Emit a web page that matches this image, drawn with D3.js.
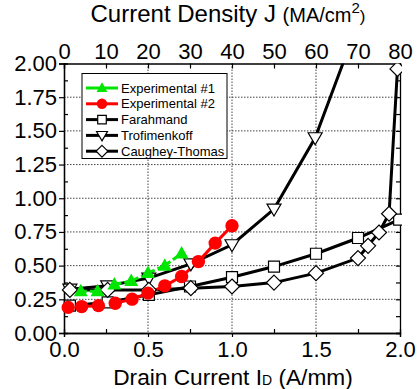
<!DOCTYPE html>
<html><head><meta charset="utf-8">
<script src="https://cdn.jsdelivr.net/npm/d3@7"></script>
<style>body{margin:0;background:#fff}svg{display:block}text{font-family:"Liberation Sans",Arial,sans-serif}</style>
</head><body><svg id="c" width="419" height="389"></svg>
<script>
const exp1X = [0.10, 0.20, 0.30, 0.40, 0.50, 0.60, 0.70];
const exp1Y = [0.31, 0.31, 0.36, 0.385, 0.445, 0.50, 0.59];
const exp2X = [0.025, 0.105, 0.205, 0.305, 0.405, 0.50, 0.60, 0.70, 0.80, 0.90, 1.00];
const exp2Y = [0.19, 0.196, 0.203, 0.221, 0.251, 0.296, 0.350, 0.419, 0.530, 0.667, 0.796];
const farX = [0.035, 0.26, 0.505, 0.75, 1.0, 1.25, 1.5, 1.75, 1.995];
const farY = [0.203, 0.228, 0.283, 0.345, 0.414, 0.493, 0.588, 0.705, 0.841];
const troX = [0.035, 0.26, 0.505, 0.755, 1.0, 1.25, 1.495, 1.75];
const troY = [0.325, 0.35, 0.407, 0.513, 0.655, 0.92, 1.449, 2.30];
const cauX = [0.035, 0.26, 0.505, 0.755, 1.0, 1.25, 1.5, 1.75, 1.81, 1.875, 1.935, 1.985];
const cauY = [0.32, 0.32, 0.32, 0.333, 0.345, 0.374, 0.444, 0.556, 0.647, 0.746, 0.885, 1.96];
const xTicks = [0.0, 0.5, 1.0, 1.5, 2.0];
const yTicks = [0.00, 0.25, 0.50, 0.75, 1.00, 1.25, 1.50, 1.75, 2.00];
const topTicks = [0, 10, 20, 30, 40, 50, 60, 70, 80];
const legendNames = ["Experimental #1", "Experimental #2", "Farahmand", "Trofimenkoff", "Caughey-Thomas"];

const svg = d3.select("#c");
const L = 64, R = 400, T = 63.5, B = 333;
const x = d3.scaleLinear().domain([0, 2]).range([L, R]);
const y = d3.scaleLinear().domain([0, 2]).range([B, T]);
const xt = d3.scaleLinear().domain([0, 80]).range([L, R]);

// grid
const g = svg.append("g");
g.selectAll(".gy").data(yTicks.slice(1, -1)).enter().append("line")
  .attr("x1", L).attr("x2", R).attr("y1", d => y(d)).attr("y2", d => y(d))
  .attr("stroke", "#444").attr("stroke-width", 1).attr("stroke-dasharray", "1.5,1.5");
g.selectAll(".gx").data(xTicks.slice(1, -1)).enter().append("line")
  .attr("y1", T).attr("y2", B).attr("x1", d => x(d)).attr("x2", d => x(d))
  .attr("stroke", "#444").attr("stroke-width", 1).attr("stroke-dasharray", "1.5,1.5");

// axes
const fmt2 = d3.format(".2f"), fmt1 = d3.format(".1f");
const ax = svg.append("g").attr("transform", `translate(${L},0)`)
  .call(d3.axisLeft(y).tickValues(yTicks).tickFormat(fmt2).tickSize(5).tickPadding(2));
const ab = svg.append("g").attr("transform", `translate(0,${B})`)
  .call(d3.axisBottom(x).tickValues(xTicks).tickFormat(fmt1).tickSize(4).tickPadding(4));
const at = svg.append("g").attr("transform", `translate(0,${T})`)
  .call(d3.axisTop(xt).tickValues(topTicks).tickSize(-5).tickPadding(5));
const ar = svg.append("g").attr("transform", `translate(${R},0)`)
  .call(d3.axisRight(y).tickValues(d3.range(0, 2.001, 0.125)).tickFormat("").tickSize(-4));
svg.append("g").attr("transform", `translate(${L},0)`)
  .call(d3.axisLeft(y).tickValues(d3.range(0.125, 2, 0.25)).tickFormat("").tickSize(-4));
svg.append("g").attr("transform", `translate(0,${B})`)
  .call(d3.axisBottom(x).tickValues(d3.range(0.25, 2, 0.5)).tickFormat("").tickSize(-4));
[ax, ab, at, ar].forEach(a => {
  a.selectAll("path").attr("stroke", "#000").attr("stroke-width", 1.3);
  a.selectAll("line").attr("stroke", "#000");
  a.selectAll("text").attr("font-size", 22).attr("fill", "#000").attr("font-family", "Liberation Sans, Arial, sans-serif");
});
svg.selectAll(".domain").attr("stroke-width", 1.3);
svg.selectAll(".tick line").attr("stroke-width", 1.2);
ab.selectAll("text").attr("dy", "0.72em");
at.selectAll("text").attr("dy", "0");

// titles
const tb = svg.append("text").attr("x", 233).attr("y", 385).attr("text-anchor", "middle").attr("font-size", 22.7);
tb.append("tspan").text("Drain Current I");
tb.append("tspan").attr("font-size", 14).text("D");
tb.append("tspan").text(" (A/mm)");
const tt = svg.append("text").attr("x", 228).attr("y", 22).attr("text-anchor", "middle").attr("font-size", 24);
tt.append("tspan").text("Current Density J ");
tt.append("tspan").attr("font-size", 20).text("(MA/cm");
tt.append("tspan").attr("font-size", 15).attr("dy", -9).text("2");
tt.append("tspan").attr("font-size", 17).attr("dy", 9).text(")");

// clip
svg.append("clipPath").attr("id", "clip").append("rect").attr("x", L).attr("y", T).attr("width", R - L).attr("height", B - T);
svg.append("clipPath").attr("id", "clipm").append("rect").attr("x", L - 8).attr("y", T).attr("width", R - L + 10).attr("height", B - T + 8);

const series = [
  {xs: exp1X, ys: exp1Y, color: "#00e600", dash: "6,3", shape: "tri", fill: "#00e600"},
  {xs: exp2X, ys: exp2Y, color: "#ff0000", dash: null, shape: "circle", fill: "#ff0000"},
  {xs: farX, ys: farY, color: "#000", dash: null, shape: "square", fill: "#fff"},
  {xs: troX, ys: troY, color: "#000", dash: null, shape: "dtri", fill: "#fff"},
  {xs: cauX, ys: cauY, color: "#000", dash: null, shape: "diamond", fill: "#fff"}
];
function markerPath(shape, k) {
  k = k || 1;
  const p = (s) => s.replace(/-?\d+(\.\d+)?/g, v => (+v * k).toFixed(2));
  if (shape === "tri") return p("M0,-7.5L7,5L-7,5Z");
  if (shape === "dtri") return p("M0,7L7,-5L-7,-5Z");
  if (shape === "square") return p("M-5.5,-5.5H5.5V5.5H-5.5Z");
  if (shape === "diamond") return p("M0,-7.5L7.5,0L0,7.5L-7.5,0Z");
  return d3.symbol(d3.symbolCircle, 140 * k * k)();
}
const line = d3.line().x(d => x(d[0])).y(d => y(d[1]));
const lg = svg.append("g").attr("clip-path", "url(#clip)");
const mg = svg.append("g").attr("clip-path", "url(#clipm)");
const order = [2, 3, 4, 1, 0];
order.forEach(i => {
  const s = series[i];
  const pts = s.xs.map((v, k) => [v, s.ys[k]]);
  lg.append("path").attr("d", line(pts)).attr("fill", "none").attr("stroke", s.color)
    .attr("stroke-width", 3).attr("stroke-dasharray", s.dash);
  mg.selectAll(null).data(pts).enter().append("path")
    .attr("transform", d => `translate(${x(d[0])},${y(d[1])})`)
    .attr("d", markerPath(s.shape)).attr("fill", s.fill)
    .attr("stroke", s.shape === "circle" || s.shape === "tri" ? "none" : "#000").attr("stroke-width", 1.2);
});

// legend
const leg = svg.append("g");
leg.append("rect").attr("x", 82).attr("y", 73.5).attr("width", 145).attr("height", 85)
  .attr("fill", "#fff").attr("stroke", "#000").attr("stroke-width", 1);
legendNames.forEach((n, i) => {
  const s = series[i];
  const yy = 88 + i * 15.8;
  leg.append("line").attr("x1", 86).attr("x2", 118).attr("y1", yy).attr("y2", yy)
    .attr("stroke", s.color).attr("stroke-width", 3);
  leg.append("path").attr("transform", `translate(102,${yy})`).attr("d", markerPath(s.shape, 0.78))
    .attr("fill", s.fill).attr("stroke", s.shape === "circle" || s.shape === "tri" ? "none" : "#000").attr("stroke-width", 1.2);
  leg.append("text").attr("x", 121).attr("y", yy + 4.5).attr("font-size", 13).text(n);
});
</script></body></html>
